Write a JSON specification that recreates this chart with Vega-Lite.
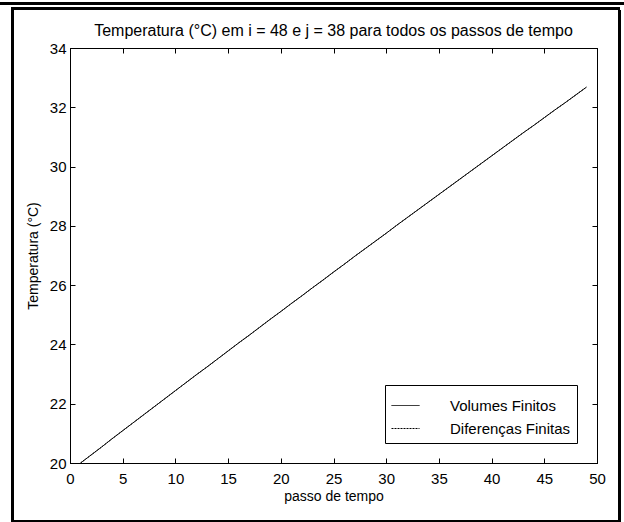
{
  "$schema": "https://vega.github.io/schema/vega-lite/v6.json",
  "width": 527,
  "height": 415,
  "autosize": {"type": "none"},
  "padding": {"left": 70, "top": 48, "right": 27, "bottom": 59},
  "background": "white",
  "config": {
    "font": "Liberation Sans",
    "view": {"stroke": "black", "strokeWidth": 1},
    "axis": {
      "labelFont": "Liberation Sans",
      "titleFont": "Liberation Sans",
      "labelFontSize": 15,
      "titleFontSize": 14,
      "titleFontWeight": "normal",
      "labelColor": "black",
      "titleColor": "black",
      "domainColor": "black",
      "tickColor": "black",
      "grid": false
    },
    "legend": {
      "labelFont": "Liberation Sans",
      "labelFontSize": 15,
      "labelColor": "black"
    }
  },
  "title": {
    "text": "Temperatura (°C) em i = 48 e j = 38 para todos os passos de tempo",
    "fontSize": 16,
    "fontWeight": "normal",
    "font": "Liberation Sans",
    "color": "black",
    "offset": -36
  },
  "data": {
    "values": [
      {"passo": 1, "Volumes Finitos": 20.00, "Diferenças Finitas": 20.00},
      {"passo": 2, "Volumes Finitos": 20.27, "Diferenças Finitas": 20.27},
      {"passo": 3, "Volumes Finitos": 20.54, "Diferenças Finitas": 20.54},
      {"passo": 4, "Volumes Finitos": 20.82, "Diferenças Finitas": 20.82},
      {"passo": 5, "Volumes Finitos": 21.09, "Diferenças Finitas": 21.09},
      {"passo": 6, "Volumes Finitos": 21.36, "Diferenças Finitas": 21.36},
      {"passo": 7, "Volumes Finitos": 21.63, "Diferenças Finitas": 21.63},
      {"passo": 8, "Volumes Finitos": 21.90, "Diferenças Finitas": 21.90},
      {"passo": 9, "Volumes Finitos": 22.17, "Diferenças Finitas": 22.17},
      {"passo": 10, "Volumes Finitos": 22.44, "Diferenças Finitas": 22.44},
      {"passo": 11, "Volumes Finitos": 22.71, "Diferenças Finitas": 22.71},
      {"passo": 12, "Volumes Finitos": 22.98, "Diferenças Finitas": 22.98},
      {"passo": 13, "Volumes Finitos": 23.24, "Diferenças Finitas": 23.24},
      {"passo": 14, "Volumes Finitos": 23.51, "Diferenças Finitas": 23.51},
      {"passo": 15, "Volumes Finitos": 23.78, "Diferenças Finitas": 23.78},
      {"passo": 16, "Volumes Finitos": 24.05, "Diferenças Finitas": 24.05},
      {"passo": 17, "Volumes Finitos": 24.31, "Diferenças Finitas": 24.31},
      {"passo": 18, "Volumes Finitos": 24.58, "Diferenças Finitas": 24.58},
      {"passo": 19, "Volumes Finitos": 24.85, "Diferenças Finitas": 24.85},
      {"passo": 20, "Volumes Finitos": 25.11, "Diferenças Finitas": 25.11},
      {"passo": 21, "Volumes Finitos": 25.38, "Diferenças Finitas": 25.38},
      {"passo": 22, "Volumes Finitos": 25.64, "Diferenças Finitas": 25.64},
      {"passo": 23, "Volumes Finitos": 25.91, "Diferenças Finitas": 25.91},
      {"passo": 24, "Volumes Finitos": 26.17, "Diferenças Finitas": 26.17},
      {"passo": 25, "Volumes Finitos": 26.44, "Diferenças Finitas": 26.44},
      {"passo": 26, "Volumes Finitos": 26.70, "Diferenças Finitas": 26.70},
      {"passo": 27, "Volumes Finitos": 26.97, "Diferenças Finitas": 26.97},
      {"passo": 28, "Volumes Finitos": 27.23, "Diferenças Finitas": 27.23},
      {"passo": 29, "Volumes Finitos": 27.49, "Diferenças Finitas": 27.49},
      {"passo": 30, "Volumes Finitos": 27.75, "Diferenças Finitas": 27.75},
      {"passo": 31, "Volumes Finitos": 28.02, "Diferenças Finitas": 28.02},
      {"passo": 32, "Volumes Finitos": 28.28, "Diferenças Finitas": 28.28},
      {"passo": 33, "Volumes Finitos": 28.54, "Diferenças Finitas": 28.54},
      {"passo": 34, "Volumes Finitos": 28.80, "Diferenças Finitas": 28.80},
      {"passo": 35, "Volumes Finitos": 29.06, "Diferenças Finitas": 29.06},
      {"passo": 36, "Volumes Finitos": 29.32, "Diferenças Finitas": 29.32},
      {"passo": 37, "Volumes Finitos": 29.58, "Diferenças Finitas": 29.58},
      {"passo": 38, "Volumes Finitos": 29.84, "Diferenças Finitas": 29.84},
      {"passo": 39, "Volumes Finitos": 30.10, "Diferenças Finitas": 30.10},
      {"passo": 40, "Volumes Finitos": 30.36, "Diferenças Finitas": 30.36},
      {"passo": 41, "Volumes Finitos": 30.62, "Diferenças Finitas": 30.62},
      {"passo": 42, "Volumes Finitos": 30.88, "Diferenças Finitas": 30.88},
      {"passo": 43, "Volumes Finitos": 31.14, "Diferenças Finitas": 31.14},
      {"passo": 44, "Volumes Finitos": 31.39, "Diferenças Finitas": 31.39},
      {"passo": 45, "Volumes Finitos": 31.65, "Diferenças Finitas": 31.65},
      {"passo": 46, "Volumes Finitos": 31.91, "Diferenças Finitas": 31.91},
      {"passo": 47, "Volumes Finitos": 32.16, "Diferenças Finitas": 32.16},
      {"passo": 48, "Volumes Finitos": 32.42, "Diferenças Finitas": 32.42},
      {"passo": 49, "Volumes Finitos": 32.68, "Diferenças Finitas": 32.68}
    ]
  },
  "transform": [
    {"fold": ["Volumes Finitos", "Diferenças Finitas"], "as": ["serie", "T"]}
  ],
  "layer": [
    {
      "mark": {"type": "line", "color": "black", "strokeWidth": 1},
      "encoding": {
        "x": {
          "field": "passo", "type": "quantitative",
          "scale": {"domain": [0, 50], "nice": false, "zero": false},
          "axis": {"orient": "bottom", "title": "passo de tempo", "values": [0,5,10,15,20,25,30,35,40,45,50], "tickSize": -5, "labelPadding": 13, "titlePadding": 3, "labelFlush": false, "labelOverlap": false}
        },
        "y": {
          "field": "T", "type": "quantitative",
          "scale": {"domain": [20, 34], "nice": false, "zero": false},
          "axis": {"orient": "left", "title": "Temperatura (°C)", "values": [20,22,24,26,28,30,32,34], "tickSize": -5, "labelPadding": 9, "titlePadding": 9, "labelFlush": false, "labelOverlap": false}
        },
        "strokeDash": {
          "field": "serie", "type": "nominal",
          "scale": {"domain": ["Volumes Finitos", "Diferenças Finitas"], "range": [[1, 0], [2, 1]]},
          "legend": {
            "title": null,
            "orient": "bottom-right",
            "offset": 20,
            "symbolType": "stroke",
            "symbolSize": 784,
            "symbolStrokeWidth": 1,
            "symbolStrokeColor": "black",
            "strokeColor": "black",
            "fillColor": "white",
            "padding": 6,
            "rowPadding": 0,
            "labelOffset": 30
          }
        },
        "detail": {"field": "serie"}
      }
    },
    {
      "mark": {"type": "line", "opacity": 0},
      "encoding": {
        "x": {
          "field": "passo", "type": "quantitative",
          "scale": {"domain": [0, 50], "nice": false, "zero": false},
          "axis": {"orient": "top", "title": null, "labels": false, "values": [0,5,10,15,20,25,30,35,40,45,50], "tickSize": -5}
        },
        "y": {
          "field": "T", "type": "quantitative",
          "scale": {"domain": [20, 34], "nice": false, "zero": false},
          "axis": {"orient": "right", "title": null, "labels": false, "values": [20,22,24,26,28,30,32,34], "tickSize": -5}
        },
        "detail": {"field": "serie"}
      }
    },
    {
      "mark": {"type": "rect", "fill": null, "stroke": "black", "strokeWidth": 2, "clip": false},
      "encoding": {
        "x": {"datum": -5.5, "type": "quantitative", "axis": null},
        "x2": {"datum": 52.09},
        "y": {"datum": 35.32, "type": "quantitative", "axis": null},
        "y2": {"datum": 18.04}
      }
    },
    {
      "mark": {"type": "rule", "stroke": "black", "strokeWidth": 2, "clip": false},
      "encoding": {
        "x": {"datum": -6.64, "type": "quantitative", "axis": null},
        "x2": {"datum": 52.56},
        "y": {"datum": 35.49, "type": "quantitative", "axis": null}
      }
    }
  ],
  "resolve": {"axis": {"x": "independent", "y": "independent"}}
}
